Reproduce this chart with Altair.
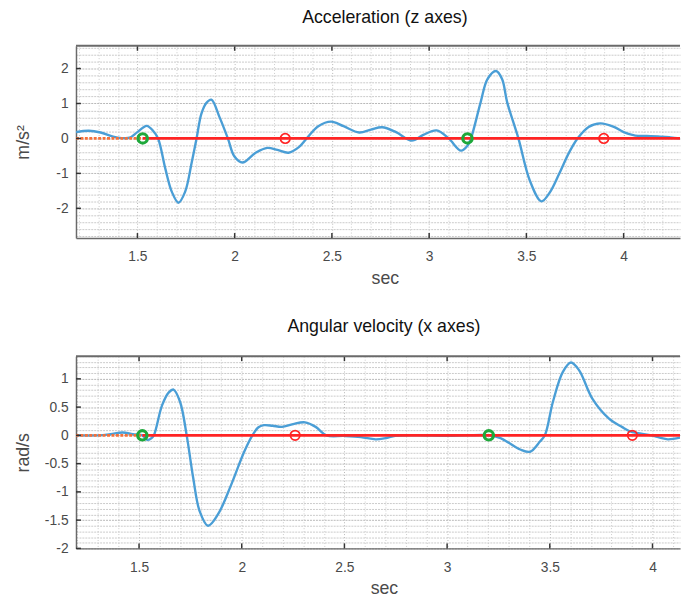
import altair as alt
import pandas as pd

# ---------------- data ----------------
# Top panel: acceleration (z axes)
acc_sec = [1.184, 1.25, 1.31, 1.375, 1.42, 1.46, 1.50, 1.548, 1.58, 1.606, 1.644, 1.677,
           1.711, 1.745, 1.779, 1.804, 1.829, 1.855, 1.88, 1.922, 1.965, 1.998, 2.04,
           2.108, 2.168, 2.22, 2.277, 2.33, 2.37, 2.43, 2.496, 2.56, 2.64, 2.70, 2.758,
           2.83, 2.91, 2.97, 3.038, 3.10, 3.164, 3.198, 3.215, 3.265, 3.30, 3.344, 3.375,
           3.401, 3.459, 3.518, 3.577, 3.62, 3.668, 3.72, 3.763, 3.82, 3.881, 3.95, 4.00,
           4.06, 4.12, 4.177, 4.24, 4.29]
acc_val = [0.18, 0.22, 0.17, 0.05, 0.01, 0.02, 0.18, 0.36, 0.22, 0.0, -0.88, -1.53,
           -1.84, -1.53, -0.69, 0.0, 0.71, 1.02, 1.11, 0.61, 0.0, -0.51, -0.69,
           -0.41, -0.27, -0.33, -0.41, -0.25, 0.0, 0.35, 0.48, 0.35, 0.17, 0.25, 0.32,
           0.18, -0.06, 0.10, 0.23, 0.0, -0.35, -0.2, 0.0, 1.04, 1.70, 1.93, 1.7,
           1.04, 0.0, -1.21, -1.80, -1.55, -1.02, -0.4, 0.0, 0.33, 0.43, 0.33, 0.18,
           0.08, 0.07, 0.06, 0.03, 0.0]
acc_start = [1.527, 3.197]   # green circles
acc_end = [2.26, 3.898]      # red circles

# Bottom panel: angular velocity (x axes)
gyr_sec = [1.193, 1.30, 1.36, 1.42, 1.47, 1.516, 1.54, 1.56, 1.572, 1.612, 1.645, 1.668,
           1.70, 1.732, 1.764, 1.795, 1.836, 1.884, 1.948, 2.012, 2.052, 2.08, 2.108,
           2.15, 2.196, 2.25, 2.308, 2.36, 2.412, 2.50, 2.58, 2.652, 2.70, 2.748, 2.85,
           3.0, 3.10, 3.203, 3.26, 3.30, 3.356, 3.404, 3.452, 3.476, 3.515, 3.563, 3.603,
           3.643, 3.707, 3.787, 3.851, 3.899, 3.995, 4.035, 4.075, 4.134]
gyr_val = [0.0, 0.0, 0.02, 0.05, 0.02, 0.0, -0.08, -0.05, 0.0, 0.53, 0.76, 0.81,
           0.59, 0.0, -0.76, -1.34, -1.60, -1.40, -0.88, -0.29, 0.0, 0.14, 0.18,
           0.17, 0.15, 0.20, 0.23, 0.15, 0.0, -0.01, -0.03, -0.07, -0.05, -0.01, 0.0,
           -0.01, 0.0, 0.0, -0.05, -0.13, -0.25, -0.29, -0.11, 0.0, 0.59, 1.12, 1.29,
           1.15, 0.65, 0.30, 0.15, 0.06, 0.0, -0.04, -0.07, -0.04]
gyr_start = [1.516, 3.203]
gyr_end = [2.26, 3.902]

acc_xdomain = [1.184, 4.29]
acc_ydomain = [-2.85, 2.65]
gyr_xdomain = [1.193, 4.134]
gyr_ydomain = [-2.0, 1.4]

x_major = [1.5, 2, 2.5, 3, 3.5, 4]
acc_y_major = [-2, -1, 0, 1, 2]
gyr_y_major = [-2, -1.5, -1, -0.5, 0, 0.5, 1]

acc_x_grid = [round(v / 10, 1) for v in range(12, 43)]
gyr_x_grid = [round(v / 10, 1) for v in range(12, 42)]
acc_y_grid = [round(v * 0.2, 1) for v in range(-14, 14)]
gyr_y_grid = [round(v / 10, 1) for v in range(-20, 15)]

W, H = 613, 195
FONT = "Liberation Sans"
BLUE = "#4a9ed6"
RED = "#ff2424"
GREEN = "#1ea83a"
ORANGE = "#f5703a"
LABEL = "#4a4a4a"


def panel(title, ytitle, sec, val, starts, ends, xdom, ydom, xgrid, ygrid,
          ymajor_vals, ymod, dx_title):
    xmaj = "abs(round(datum.value*10)) % 5 == 0"
    ymaj = f"abs(round(datum.value*10)) % {ymod} == 0"
    xaxis = alt.Axis(
        values=xgrid, title="sec", ticks=False, grid=True,
        labelExpr=f"{xmaj} ? '' + datum.value : ''",
        gridColor={"condition": {"test": xmaj, "value": "#b8b8b8"}, "value": "#cacaca"},
        gridDash=[1, 2], gridWidth=1,
        domainColor="#6a6a6a", domainWidth=1.5,
        labelPadding=12, titlePadding=6, labelFontSize=14, titleFontSize=18,
        labelColor=LABEL, titleColor=LABEL, labelOverlap=False,
        labelFlush=False, titleX=W / 2 + dx_title, titleFontWeight="normal")
    yaxis = alt.Axis(
        values=ygrid, title=ytitle, ticks=False, grid=True,
        labelExpr=f"{ymaj} ? '' + datum.value : ''",
        gridColor={"condition": {"test": ymaj, "value": "#b8b8b8"}, "value": "#cacaca"},
        gridDash=[2, 1], gridWidth=1,
        domainColor="#6a6a6a", domainWidth=1.5,
        labelPadding=8, titlePadding=8, labelFontSize=14, titleFontSize=18,
        labelColor=LABEL, titleColor=LABEL, labelOverlap=False,
        labelFlush=False, minExtent=36, maxExtent=36, titleFontWeight="normal")
    X = alt.X("sec:Q", scale=alt.Scale(domain=xdom, nice=False, zero=False), axis=xaxis)
    Y = alt.Y("val:Q", scale=alt.Scale(domain=ydom, nice=False, zero=False), axis=yaxis)

    curve = alt.Chart(pd.DataFrame({"sec": sec, "val": val})).mark_line(
        color=BLUE, strokeWidth=2.4, interpolate="catmull-rom", clip=True).encode(x=X, y=Y)

    pre = alt.Chart(pd.DataFrame({"sec": [xdom[0], starts[0]], "val": [0, 0]})).mark_line(
        color=ORANGE, strokeWidth=2.8, strokeDash=[3, 1.5], clip=True).encode(x=X, y=Y)
    redline = alt.Chart(pd.DataFrame({"sec": [starts[0], xdom[1]], "val": [0, 0]})).mark_line(
        color=RED, strokeWidth=2.8, clip=True).encode(x=X, y=Y)

    green = alt.Chart(pd.DataFrame({"sec": starts, "val": [0] * len(starts)})).mark_point(
        shape="circle", filled=False, color=GREEN, strokeWidth=3.2, size=90, opacity=1).encode(x=X, y=Y)
    red = alt.Chart(pd.DataFrame({"sec": ends, "val": [0] * len(ends)})).mark_point(
        shape="circle", filled=False, color=RED, strokeWidth=1.7, size=95, opacity=1).encode(x=X, y=Y)

    tx = pd.DataFrame({"sec": x_major})
    top_ticks = alt.Chart(tx).mark_rule(color="#333333", strokeWidth=1.5).encode(
        x=X, y=alt.value(0), y2=alt.value(5))
    bot_ticks = alt.Chart(tx).mark_rule(color="#333333", strokeWidth=1.5).encode(
        x=X, y=alt.value(H), y2=alt.value(H - 5))
    left_ticks = alt.Chart(pd.DataFrame({"val": ymajor_vals})).mark_rule(
        color="#333333", strokeWidth=1.5).encode(y=Y, x=alt.value(0), x2=alt.value(5))
    top_border = alt.Chart(pd.DataFrame({"sec": [0]})).mark_rule(
        color="#6a6a6a", strokeWidth=2).encode(x=alt.value(0), x2=alt.value(W), y=alt.value(0))

    return alt.layer(curve, pre, redline, green, red, top_ticks, bot_ticks, left_ticks,
                     top_border).properties(
        width=W, height=H,
        title=alt.TitleParams(title, fontSize=18, font=FONT, fontWeight="normal",
                              color="#111111", offset=14, dx=dx_title))


top = panel("Acceleration (z axes)", "m/s²", acc_sec, acc_val, acc_start, acc_end,
            acc_xdomain, acc_ydomain, acc_x_grid, acc_y_grid, acc_y_major, 10, 7)
bottom = panel("Angular velocity (x axes)", "rad/s", gyr_sec, gyr_val, gyr_start, gyr_end,
               gyr_xdomain, gyr_ydomain, gyr_x_grid, gyr_y_grid, gyr_y_major, 5, 6)

chart = alt.vconcat(top, bottom, spacing=31).properties(
    padding={"left": 7, "top": -4, "right": 0, "bottom": 0}
).configure_view(stroke=None).configure_axis(
    labelFont=FONT, titleFont=FONT
).configure_title(font=FONT)

chart.save("out.html", embed_options={"renderer": "svg", "actions": False})
